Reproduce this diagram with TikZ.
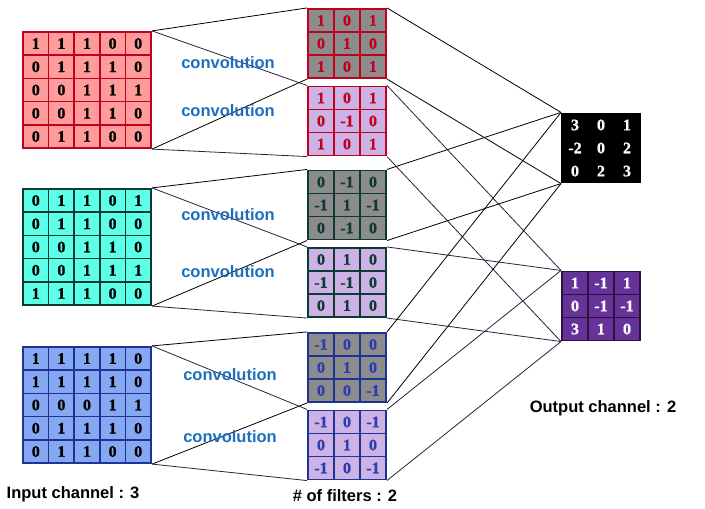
\documentclass[tikz,border=0pt]{standalone}
\usepackage{fontspec}
\setmainfont{Liberation Serif}
\setsansfont{Liberation Sans}
\newfontfamily\cellfont{Liberation Serif}[FakeBold=0.8]
\usetikzlibrary{matrix}

\definecolor{redfill}{HTML}{FF9B9B}
\definecolor{redline}{HTML}{C0001C}
\definecolor{cyanfill}{HTML}{5CFFE8}
\definecolor{cyanline}{HTML}{0E3A36}
\definecolor{bluefill}{HTML}{86A8F2}
\definecolor{blueline}{HTML}{1E3494}
\definecolor{bluetext}{HTML}{2A3CB0}
\definecolor{greyfill}{HTML}{8C8C8C}
\definecolor{lilac}{HTML}{CDB2E6}
\definecolor{outpurple}{HTML}{663399}
\definecolor{outline}{HTML}{2E1040}
\definecolor{convblue}{HTML}{1F6EBE}
\definecolor{wirepurple}{HTML}{2E1F3F}

\begin{document}
\begin{tikzpicture}[x=1pt,y=-1pt,
    grid5/.style={matrix of nodes, inner sep=0pt, column sep=-1.6pt, row sep=-1.6pt,
        nodes={draw, line width=1.6pt, outer sep=0pt, inner sep=0pt,
            minimum width=25.6pt, minimum height=23.2pt,
            font=\cellfont\bfseries\fontsize{16}{16}\selectfont}},
    grid3/.style={matrix of nodes, inner sep=0pt, column sep=-1.6pt, row sep=-1.6pt,
        nodes={draw, line width=1.6pt, outer sep=0pt, inner sep=0pt,
            minimum width=26pt, minimum height=23pt,
            font=\cellfont\bfseries\fontsize{16}{16}\selectfont}},
    conv/.style={font=\sffamily\bfseries\fontsize{16.5}{18}\selectfont, text=convblue},
    caption/.style={font=\sffamily\bfseries\fontsize{16.5}{18}\selectfont},
    wire/.style={line width=0.8pt},
]

    \useasboundingbox (0,0) rectangle (705,509);

    % input channels
    \matrix[grid5, nodes={fill=redfill, draw=redline}] (in1) at (87,90) {
        1 & 1 & 1 & 0 & 0 \\
        0 & 1 & 1 & 1 & 0 \\
        0 & 0 & 1 & 1 & 1 \\
        0 & 0 & 1 & 1 & 0 \\
        0 & 1 & 1 & 0 & 0 \\
    };
    \matrix[grid5, nodes={fill=cyanfill, draw=cyanline}] (in2) at (87,247) {
        0 & 1 & 1 & 0 & 1 \\
        0 & 1 & 1 & 0 & 0 \\
        0 & 0 & 1 & 1 & 0 \\
        0 & 0 & 1 & 1 & 1 \\
        1 & 1 & 1 & 0 & 0 \\
    };
    \matrix[grid5, nodes={fill=bluefill, draw=blueline}] (in3) at (87,405) {
        1 & 1 & 1 & 1 & 0 \\
        1 & 1 & 1 & 1 & 0 \\
        0 & 0 & 0 & 1 & 1 \\
        0 & 1 & 1 & 1 & 0 \\
        0 & 1 & 1 & 0 & 0 \\
    };

    % filters
    \matrix[grid3, nodes={fill=greyfill, draw=redline, text=redline}] (f11) at (347,43.5) {
        1 & 0 & 1 \\
        0 & 1 & 0 \\
        1 & 0 & 1 \\
    };
    \matrix[grid3, nodes={fill=lilac, draw=redline, text=redline}] (f12) at (347,121) {
        1 & 0 & 1 \\
        0 & -1 & 0 \\
        1 & 0 & 1 \\
    };
    \matrix[grid3, nodes={fill=greyfill, draw=cyanline, text=cyanline}] (f21) at (347,205) {
        0 & -1 & 0 \\
        -1 & 1 & -1 \\
        0 & -1 & 0 \\
    };
    \matrix[grid3, nodes={fill=lilac, draw=cyanline, text=cyanline}] (f22) at (347,282.5) {
        0 & 1 & 0 \\
        -1 & -1 & 0 \\
        0 & 1 & 0 \\
    };
    \matrix[grid3, nodes={fill=greyfill, draw=blueline, text=bluetext}] (f31) at (347,367.5) {
        -1 & 0 & 0 \\
        0 & 1 & 0 \\
        0 & 0 & -1 \\
    };
    \matrix[grid3, nodes={fill=lilac, draw=blueline, text=bluetext}] (f32) at (347,445) {
        -1 & 0 & -1 \\
        0 & 1 & 0 \\
        -1 & 0 & -1 \\
    };

    % output channels
    \matrix[grid3, nodes={fill=black, draw=black, text=white}] (out1) at (601,148) {
        3 & 0 & 1 \\
        -2 & 0 & 2 \\
        0 & 2 & 3 \\
    };
    \matrix[grid3, nodes={fill=outpurple, draw=outline, text=white}] (out2) at (601,306) {
        1 & -1 & 1 \\
        0 & -1 & -1 \\
        3 & 1 & 0 \\
    };

    % input -> filters
    \foreach \i in {1,2,3} {
        \draw [wire] (in\i.north east) -- (f\i1.north west);
        \draw [wire] (in\i.south east) -- (f\i1.south west);
        \draw [wire, wirepurple] (in\i.north east) -- (f\i2.north west);
        \draw [wire, wirepurple] (in\i.south east) -- (f\i2.south west);
    }

    % filters -> outputs
    \foreach \i in {1,2,3} {
        \draw [wire] (f\i1.north east) -- (out1.north west);
        \draw [wire] (f\i1.south east) -- (out1.south west);
        \draw [wire, wirepurple] (f\i2.north east) -- (out2.north west);
        \draw [wire, wirepurple] (f\i2.south east) -- (out2.south west);
    }

    \node [conv] (c11) at (228,63) {convolution};
    \node [conv] (c12) at (228,111) {convolution};
    \node [conv] (c21) at (228,215) {convolution};
    \node [conv] (c22) at (228,272) {convolution};
    \node [conv] (c31) at (230,375) {convolution};
    \node [conv] (c32) at (230,437) {convolution};

    \node [caption] (incap) at (73,494) {Input channel : 3};
    \node [caption] (fcap) at (345,496) {\# of filters : 2};
    \node [caption] (outcap) at (603,408) {Output channel : 2};

\end{tikzpicture}
\end{document}
